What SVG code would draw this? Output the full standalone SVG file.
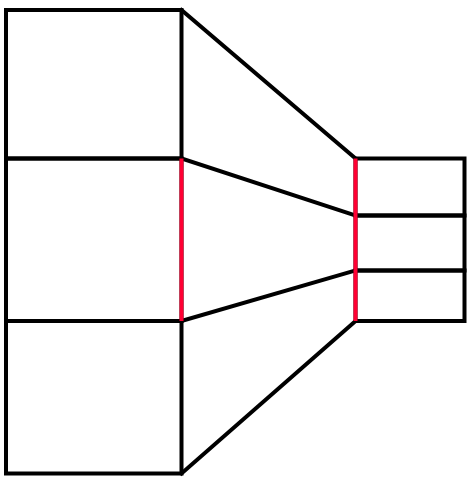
<svg xmlns="http://www.w3.org/2000/svg" width="470" height="480" viewBox="0 0 470 480">
<style>
.k{stroke:#000;stroke-width:4;fill:none;stroke-linecap:square}
.r{stroke:#FF0033;stroke-width:4;fill:none}
</style>
<rect width="470" height="480" fill="#fff"/>
<g id="left-top"><rect class="k" x="6" y="10" width="175.5" height="148.5"/></g>
<g id="left-mid"><rect class="k" x="6" y="158.5" width="175.5" height="162.5"/></g>
<g id="left-bottom"><rect class="k" x="6" y="321" width="175.5" height="152.5"/></g>
<g id="right-top"><rect class="k" x="355.5" y="158.5" width="109" height="57"/></g>
<g id="right-mid"><rect class="k" x="355.5" y="215.5" width="109" height="55"/></g>
<g id="right-bottom"><rect class="k" x="355.5" y="270.5" width="109" height="50.5"/></g>
<g id="connectors">
<line class="k" x1="181.5" y1="10" x2="355.5" y2="158.5"/>
<line class="k" x1="181.5" y1="158.5" x2="355.5" y2="215.5"/>
<line class="k" x1="181.5" y1="321" x2="355.5" y2="270.5"/>
<line class="k" x1="181.5" y1="473.5" x2="355.5" y2="321"/>
<line class="r" x1="181.5" y1="158.5" x2="181.5" y2="321"/>
<line class="r" x1="355.5" y1="158.5" x2="355.5" y2="321"/>
</g>
</svg>
